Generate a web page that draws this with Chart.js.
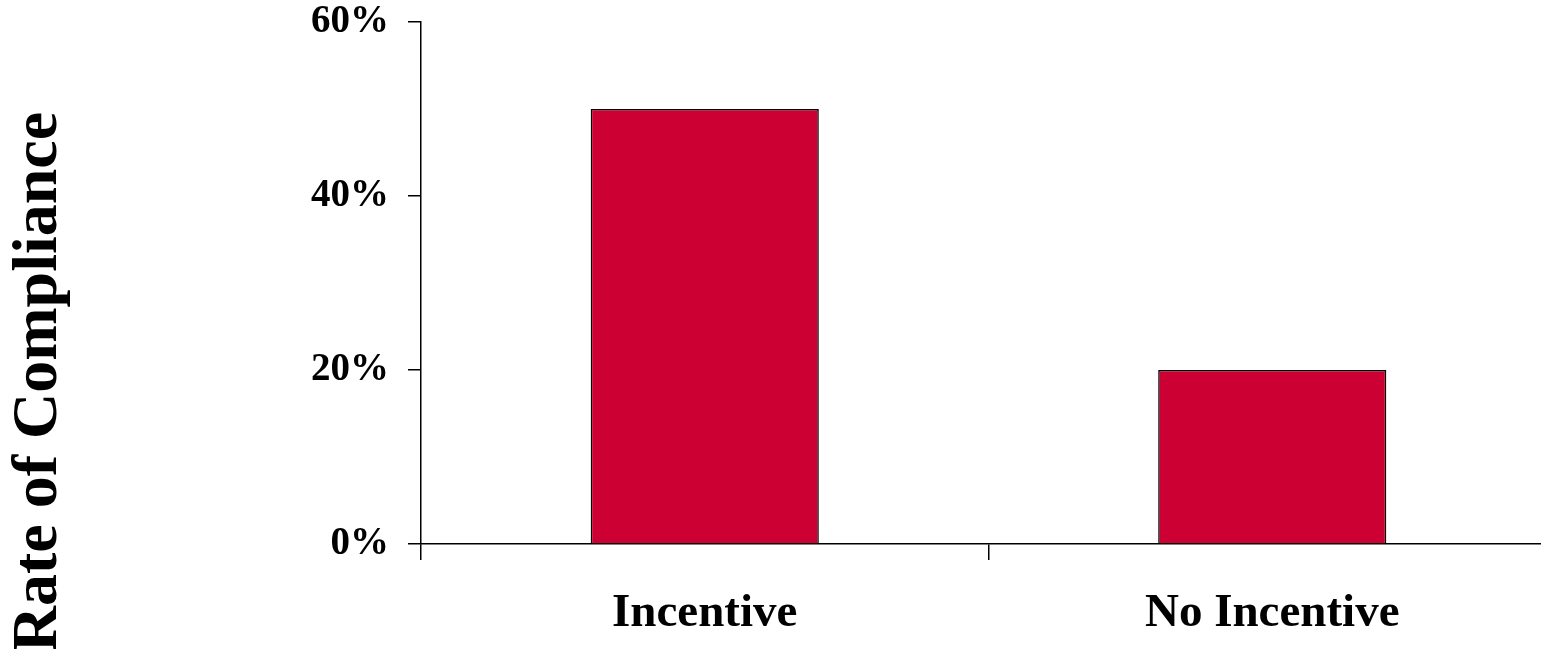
<!DOCTYPE html>
<html>
<head>
<meta charset="utf-8">
<script src="https://cdn.jsdelivr.net/npm/chart.js@4"></script>
<style>
    html, body { margin: 0; padding: 0; background: #fff; overflow: hidden; }
    #wrap { position: relative; width: 1556px; height: 649px; }
</style>
</head>
<body>
<div id="wrap"><canvas id="complianceChart"></canvas></div>
<script>
// Chart data
const groups = ['Incentive', 'No Incentive'];
const complianceRate = [50, 20];
const yTicks = [0, 20, 40, 60];

const serif = "'Liberation Serif', 'Times New Roman', serif";

// Rotated axis title drawn beside the y axis
const sideTitle = {
    id: 'sideTitle',
    afterDraw(chart) {
        const ctx = chart.ctx;
        ctx.save();
        ctx.translate(56, 382);
        ctx.rotate(-Math.PI / 2);
        ctx.font = 'bold 64px ' + serif;
        ctx.fillStyle = '#000';
        ctx.textAlign = 'center';
        ctx.textBaseline = 'alphabetic';
        ctx.fillText('Rate of Compliance', 0, 0);
        ctx.restore();
    }
};

new Chart(document.getElementById('complianceChart'), {
    type: 'bar',
    data: {
        labels: groups,
        datasets: [{
            data: complianceRate,
            backgroundColor: '#CC0033',
            borderColor: '#000',
            borderWidth: 1.5,
            categoryPercentage: 1,
            barPercentage: 0.402
        }]
    },
    options: {
        responsive: true,
        maintainAspectRatio: false,
        animation: false,
        layout: { padding: { top: 22, left: 0, right: 0, bottom: 0 } },
        plugins: { legend: { display: false }, tooltip: { enabled: false } },
        scales: {
            x: {
                grid: { offset: true, drawOnChartArea: false, tickLength: 16, color: '#000', lineWidth: 1.5 },
                border: { color: '#000', width: 1.5 },
                ticks: { color: '#000', padding: 26, font: { family: serif, weight: 'bold', size: 47 } },
                afterFit(scale) { scale.height = 105; scale.paddingLeft = 0; scale.paddingRight = 0; }
            },
            y: {
                min: yTicks[0],
                max: yTicks[yTicks.length - 1],
                afterBuildTicks(scale) { scale.ticks = yTicks.map(v => ({ value: v })); },
                grid: { drawOnChartArea: false, tickLength: 13, color: '#000', lineWidth: 1.5 },
                border: { color: '#000', width: 1.5 },
                ticks: {
                    color: '#000',
                    padding: 19,
                    font: { family: serif, weight: 'bold', size: 39 },
                    callback: v => v + '%'
                },
                afterFit(scale) { scale.width = 421; scale.paddingTop = 0; scale.paddingBottom = 0; }
            }
        }
    },
    plugins: [sideTitle]
});
</script>
</body>
</html>
